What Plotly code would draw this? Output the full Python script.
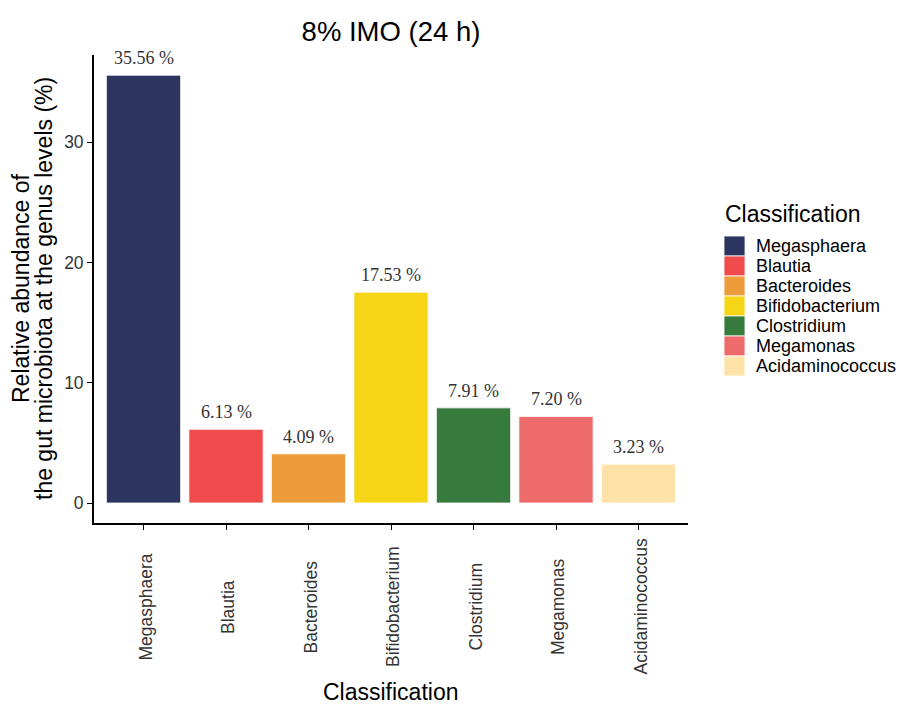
import plotly.graph_objects as go

genera = ["Megasphaera", "Blautia", "Bacteroides", "Bifidobacterium",
          "Clostridium", "Megamonas", "Acidaminococcus"]
abundance = [35.56, 6.13, 4.09, 17.53, 7.91, 7.20, 3.23]
colors = ["#2B3560", "#F04B4C", "#EC9C3B", "#F6D516",
          "#367A3E", "#EE6B6B", "#FDE3A7"]
y_ticks = [0, 10, 20, 30]

SANS = "Liberation Sans, Arial, sans-serif"
SERIF = "Liberation Serif, Times New Roman, serif"

W, H = 900, 704
L, R, T, B = 94, 212, 55, 181
pw, ph = W - L - R, H - T - B


def px(x):
    return (x - L) / pw


def py(y):
    return (H - B - y) / ph


fig = go.Figure()
fig.add_trace(go.Bar(
    x=genera, y=abundance, width=0.9,
    marker=dict(color=colors, line=dict(color="white", width=0.8)),
    showlegend=False, hoverinfo="x+y",
))

# value labels above each bar
for g, v in zip(genera, abundance):
    fig.add_annotation(x=g, y=v, text=f"{v:.2f} %", showarrow=False,
                       yanchor="bottom", yshift=5,
                       font=dict(family=SERIF, size=18, color="#333333"))

# category labels, rotated and centred below the axis
for g in genera:
    fig.add_annotation(x=g, xref="x", y=py(607), yref="paper", text=g,
                       textangle=-90, showarrow=False, xshift=2,
                       xanchor="center", yanchor="middle",
                       font=dict(family=SANS, size=17.5, color="#333333"))

# axis titles
fig.add_annotation(x=px((L + 688) / 2), y=py(692), xref="paper", yref="paper",
                   text="Classification", showarrow=False,
                   xanchor="center", yanchor="middle",
                   font=dict(family=SANS, size=23, color="black"))
for text, xc in [("Relative abundance of", 21),
                 ("the gut microbiota at the genus levels (%)", 44)]:
    fig.add_annotation(x=px(xc), y=py(289), xref="paper", yref="paper",
                       text=text, textangle=-90, showarrow=False,
                       xanchor="center", yanchor="middle",
                       font=dict(family=SANS, size=23, color="black"))

# legend: title plus colour swatches
fig.add_annotation(x=px(723), y=py(214), xref="paper", yref="paper",
                   text="Classification", showarrow=False,
                   xanchor="left", yanchor="middle",
                   font=dict(family=SANS, size=23, color="black"))
for i, (g, c) in enumerate(zip(genera, colors)):
    top = 236 + 20 * i
    fig.add_shape(type="rect", xref="paper", yref="paper",
                  x0=px(724), x1=px(745), y0=py(top + 20), y1=py(top),
                  fillcolor=c, line=dict(color="white", width=0.8))
    fig.add_annotation(x=px(754), y=py(top + 10), xref="paper", yref="paper",
                       text=g, showarrow=False, xanchor="left", yanchor="middle",
                       font=dict(family=SANS, size=18, color="black"))

fig.update_layout(
    width=W, height=H,
    margin=dict(l=L, r=R, t=T, b=B),
    paper_bgcolor="white", plot_bgcolor="white",
    title=dict(text="8% IMO (24 h)", x=(L + 688) / 2 / W, xanchor="center",
               y=1 - 31 / H, yanchor="middle",
               font=dict(family=SANS, size=27.5, color="black")),
)

fig.update_xaxes(
    range=[-0.6, 6.6], showline=True, linecolor="black", linewidth=1.8,
    ticks="outside", ticklen=5, tickcolor="black", tickwidth=1.2,
    showticklabels=False, showgrid=False, zeroline=False,
)
fig.update_yaxes(
    range=[-1.66, 37.24], tickvals=y_ticks, showline=True, linecolor="black",
    linewidth=1.8, ticks="outside", ticklen=5, tickcolor="black", tickwidth=1.2,
    tickfont=dict(family=SANS, size=17.5, color="#333333"),
    showgrid=False, zeroline=False,
)

fig.write_html("out.html")
